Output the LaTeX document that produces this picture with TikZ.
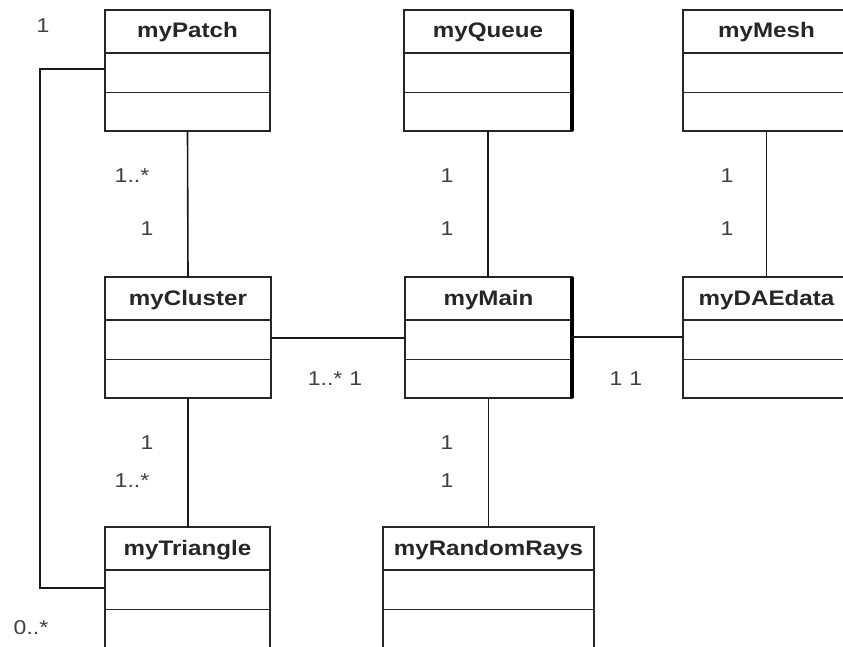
\documentclass[tikz,border=0pt]{standalone}
\usepackage{fontspec}
\setmainfont{Liberation Sans}[FakeStretch=1.15]
\usetikzlibrary{calc}
\newcommand\classbox[5]{%
  \node[cbox, minimum width=#4pt, anchor=north west] (#1) at (#2,#3) {};
  \node[ctitle] (#1-title) at ([yshift=-28pt]#1.north) {#5};
  \draw[cline] ([yshift=-43pt]#1.north west) -- ([yshift=-43pt]#1.north east);
  \draw[cline] ([yshift=-82.5pt]#1.north west) -- ([yshift=-82.5pt]#1.north east);
}
\begin{document}
\begin{tikzpicture}[x=1pt,y=-1pt,
  cbox/.style={rectangle, draw=black!85, line width=1.7pt, fill=white, inner sep=0pt, outer sep=0pt, minimum height=121pt},
  cline/.style={draw=black!85, line width=1.7pt},
  ctitle/.style={font=\fontsize{21}{24}\selectfont\bfseries, text=black!85, anchor=base, inner sep=0pt},
  mult/.style={font=\fontsize{20}{24}\selectfont, text=black!75, inner sep=0pt},
  conn/.style={draw=black!90, line width=1.6pt},
  thickedge/.style={draw=black, line width=3.2pt}]
\useasboundingbox (0,0) rectangle (843,647);
\clip (0,0) rectangle (843,647);
\fill[white] (0,0) rectangle (843,647);

\classbox{myPatch}{105}{10}{165}{myPatch}
\classbox{myQueue}{404}{10}{168}{myQueue}
\classbox{myMesh}{683}{10}{167}{myMesh}
\classbox{myCluster}{105}{277}{166}{myCluster}
\classbox{myMain}{405}{277}{167}{myMain}
\classbox{myDAEdata}{683}{277}{167}{myDAEdata}
\classbox{myTriangle}{105}{527}{165}{myTriangle}
\classbox{myRandomRays}{383}{527}{211}{myRandomRays}

\draw[thickedge] (myQueue.north east) -- (myQueue.south east);
\draw[thickedge] (myMain.north east) -- (myMain.south east);

\draw[conn] (myPatch.south) -- (myCluster.north);
\draw[conn] (myQueue.south) -- (myQueue.south |- myMain.north);
\draw[conn] (myMesh.south) -- (myDAEdata.north);
\draw[conn] ([yshift=-61pt]myCluster.north east) -- ([yshift=-61pt]myMain.north west);
\draw[conn] ([yshift=-60pt]myMain.north east) -- ([yshift=-60pt]myDAEdata.north west);
\draw[conn] (myCluster.south) -- (myCluster.south |- myTriangle.north);
\draw[conn] (myMain.south) -- (myMain.south |- myRandomRays.north);
\draw[conn] ([yshift=-59pt]myPatch.north west) -- ++(-65,0) |- ([yshift=-61pt]myTriangle.north west);

% multiplicities
\node[mult] (l1) at (43,26) {1};
\node[mult] (l2) at (132,176) {1..*};
\node[mult] (l3) at (147,229) {1};
\node[mult] (l4) at (447,176) {1};
\node[mult] (l5) at (447,229) {1};
\node[mult] (l6) at (727,176) {1};
\node[mult] (l7) at (727,229) {1};
\node[mult] (l8) at (335,379) {1..*\hspace{7pt}1};
\node[mult] (l9) at (626,379) {1\hspace{7pt}1};
\node[mult] (l10) at (147,443) {1};
\node[mult] (l11) at (132,481) {1..*};
\node[mult] (l12) at (447,443) {1};
\node[mult] (l13) at (447,481) {1};
\node[mult] (l14) at (31,628) {0..*};
\end{tikzpicture}
\end{document}
